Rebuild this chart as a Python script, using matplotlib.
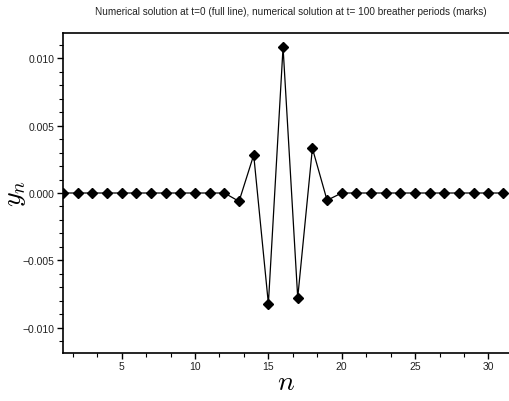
import matplotlib
matplotlib.use("Agg")
import matplotlib.pyplot as plt
from matplotlib.ticker import MultipleLocator, AutoMinorLocator, FuncFormatter

plt.rcParams['font.family'] = ['Liberation Sans', 'DejaVu Sans']
plt.rcParams['mathtext.fontset'] = 'cm'

n = list(range(1, 32))
y_t0 = [0, 0, 0, 0, 0, 0, 0, 0, 0, 0, 0, 0,
        -0.00062, 0.00282, -0.00822, 0.01082, -0.00777, 0.00332, -0.00054,
        0, 0, 0, 0, 0, 0, 0, 0, 0, 0, 0, 0]
y_t100 = [0, 0, 0, 0, 0, 0, 0, 0, 0, 0, 0, 0,
          -0.00062, 0.00282, -0.00822, 0.01082, -0.00777, 0.00332, -0.00054,
          0, 0, 0, 0, 0, 0, 0, 0, 0, 0, 0, 0]

fig = plt.figure(figsize=(5.09, 4.02), dpi=100)
ax = fig.add_axes([63/509, 48/402, 446/509, 320/402])
ax.plot(n, y_t0, color='black', lw=0.9, zorder=2)
ax.plot(n, y_t100, ls='none', marker='D', ms=4.7, color='black', zorder=3)

ax.set_xlim(1, 1 + 446/14.67)
ax.set_ylim(-0.01188, 0.01188)
ax.xaxis.set_major_locator(MultipleLocator(5))
ax.xaxis.set_minor_locator(AutoMinorLocator(3))
ax.yaxis.set_major_locator(MultipleLocator(0.005))
ax.yaxis.set_minor_locator(AutoMinorLocator(5))
ax.yaxis.set_major_formatter(FuncFormatter(lambda v, p: ('%.3f' % v).replace('-', '\u2212') if abs(v) > 1e-12 else '0.000'))
ax.tick_params(which='major', direction='out', length=4, width=1, labelsize=7.5, pad=2, labelcolor='#222222')
ax.tick_params(which='minor', direction='out', length=3, width=0.8)
ax.spines['right'].set_visible(False)
for s in ['left', 'bottom', 'top']:
    ax.spines[s].set_linewidth(1.2)

ax.set_xlabel(r'$n$', fontsize=20, labelpad=-2)
ax.set_ylabel(r'$y_n$', fontsize=20, labelpad=-4)
fig.text(291/509, 0.97, 'Numerical solution at t=0 (full line), numerical solution at t= 100 breather periods (marks)',
         ha='center', va='center', fontsize=7.2, color='#222222')

fig.savefig('out.png', dpi=100)
